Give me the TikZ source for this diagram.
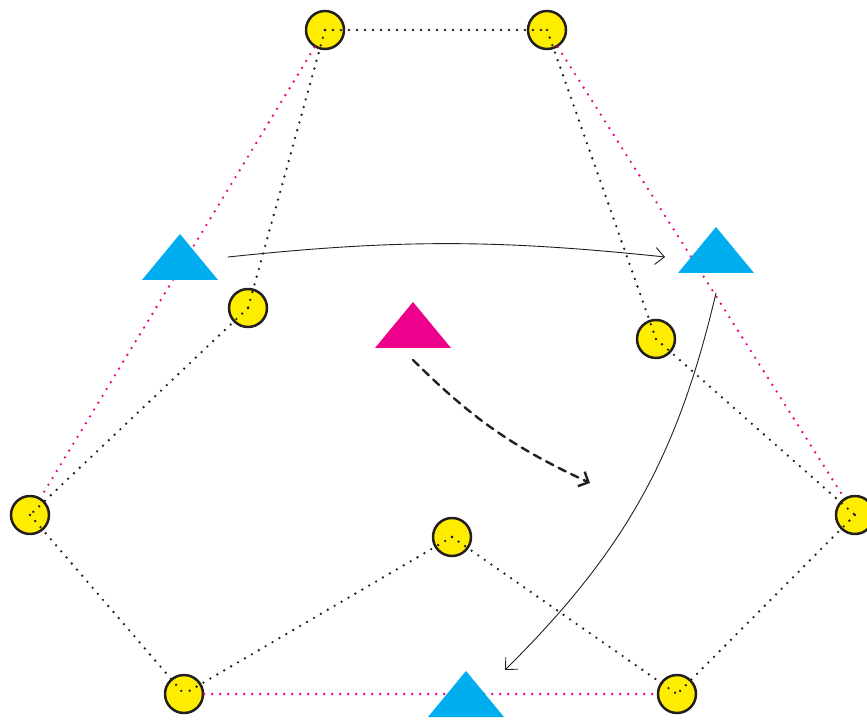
\documentclass[tikz,border=0pt]{standalone}
\usetikzlibrary{arrows.meta,bending}
\definecolor{ptyellow}{RGB}{255,237,0}
\definecolor{ptblue}{RGB}{0,174,239}
\definecolor{ptmagenta}{RGB}{236,0,140}
\definecolor{ptblack}{RGB}{35,31,32}
\begin{document}
\begin{tikzpicture}[line cap=round,line join=round,x=1pt,y=1pt,
	vertex/.style={circle,draw=ptblack,fill=ptyellow,line width=2.5pt,minimum size=38pt,inner sep=0pt},
	blackdots/.style={ptblack,line width=2.6pt,dash pattern=on 0pt off 8pt},
	pinkdots/.style={ptmagenta,line width=2.6pt,dash pattern=on 0pt off 8pt},
	thinarrow/.style={ptblack,line width=0.9pt,-{Straight Barb[length=9pt,width=17pt,bend]}},
	dasharrow/.style={ptblack,line width=2.4pt,dash pattern=on 8pt off 6pt,-{Straight Barb[length=8pt,width=16pt,bend]}}]
				\useasboundingbox (0,0) rectangle (867,720);
				\clip (0,0) rectangle (867,720);
				\node[vertex] (A) at (325,690) {};
				\node[vertex] (B) at (547,690) {};
				\node[vertex] (C) at (248,412) {};
				\node[vertex] (D) at (656,381) {};
				\node[vertex] (E) at (30,205) {};
				\node[vertex] (F) at (855,205) {};
				\node[vertex] (G) at (452,183) {};
				\node[vertex] (H) at (184,26) {};
				\node[vertex] (K) at (677,26) {};
				\draw [pinkdots] (A) -- (E);
				\draw [pinkdots] (B) -- (F);
				\draw [pinkdots] (H) -- (K);
				\draw [blackdots] (A.center) -- (B.center);
				\draw [blackdots] (A.center) -- (C.center);
				\draw [blackdots] (B.center) -- (D.center);
				\draw [blackdots] (C.center) -- (E.center);
				\draw [blackdots] (D.center) -- (F.center);
				\draw [blackdots] (E.center) -- (H.center);
				\draw [blackdots] (F.center) -- (K.center);
				\draw [blackdots] (G.center) -- (H.center);
				\draw [blackdots] (G.center) -- (K.center);
				\coordinate (P) at (180,463);
				\coordinate (Q) at (716,470);
				\coordinate (M) at (413,395);
				\coordinate (R) at (466,26);
				\coordinate (S) at (590,237);
				\fill [ptblue] (P) ++(-38,-23) -- ++(76,0) -- ++(-38,46) -- cycle;
				\fill [ptblue] (Q) ++(-38,-23) -- ++(76,0) -- ++(-38,46) -- cycle;
				\fill [ptmagenta] (M) ++(-38,-23) -- ++(76,0) -- ++(-38,46) -- cycle;
				\fill [ptblue] (R) ++(-38,-23) -- ++(76,0) -- ++(-38,46) -- cycle;
				\draw [thinarrow] ([xshift=48pt]P) to[bend left=6] ([shift={(-51pt,-7pt)}]Q);
				\draw [thinarrow] ([yshift=-43pt]Q) to[bend left=16] ([shift={(39pt,24pt)}]R);
				\draw [dasharrow] ([yshift=-35pt]M) to[bend right=10] (S);
			\end{tikzpicture}
\end{document}
